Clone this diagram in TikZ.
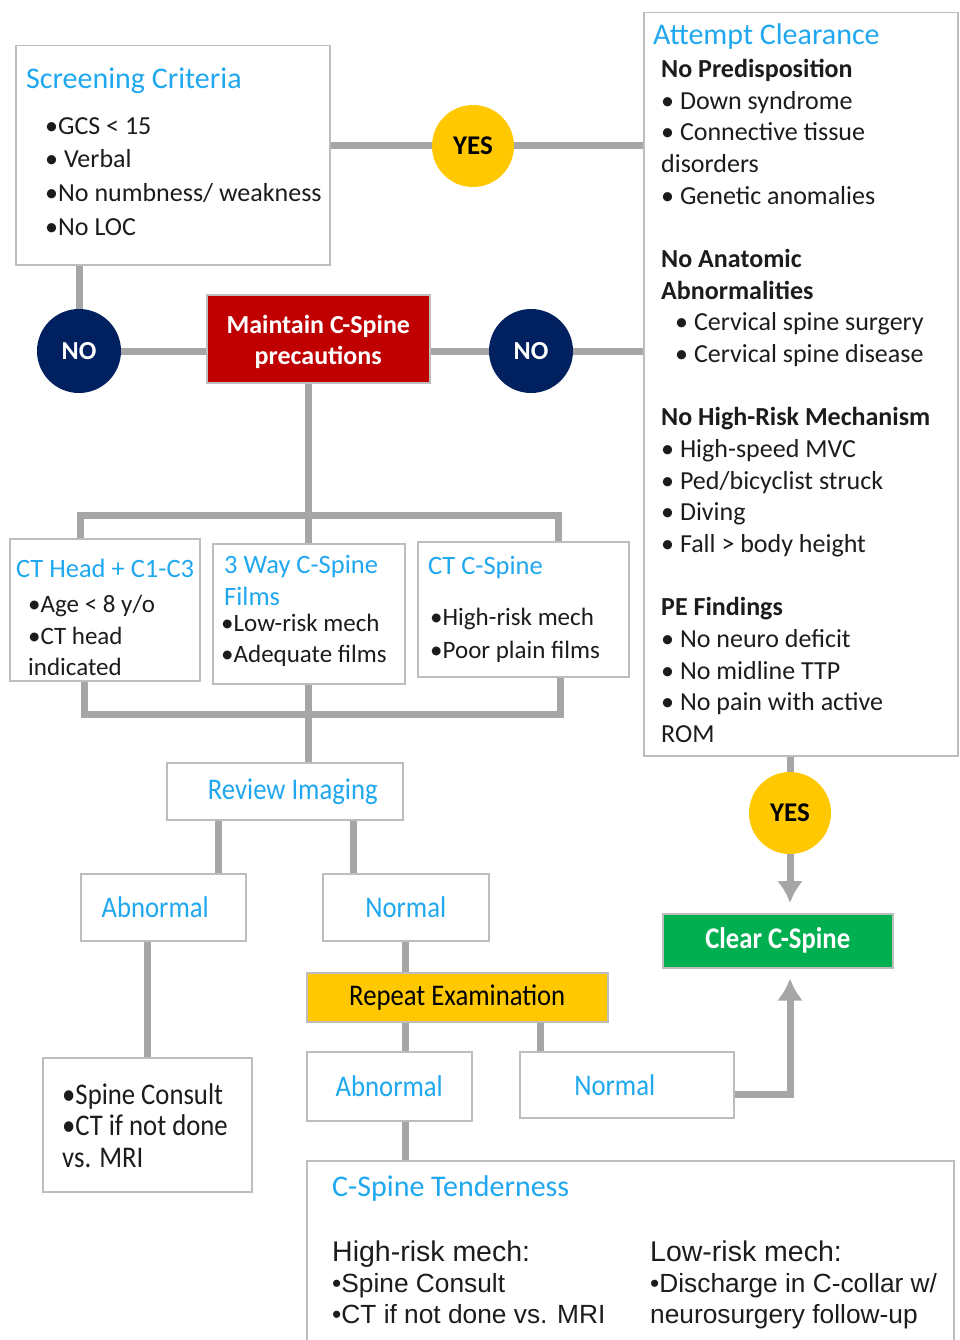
\documentclass[tikz,border=0pt]{standalone}
\usepackage{fontspec}
\setmainfont{Carlito}
\newfontfamily\narrowfont{Carlito}[FakeStretch=0.89]
\newfontfamily\arialfont{Liberation Sans}
\usepackage{xcolor}
\usetikzlibrary{calc}
\usetikzlibrary{arrows.meta}
\usetikzlibrary{shapes}
\usetikzlibrary{positioning}

\definecolor{headblue}{HTML}{1FA8F0}
\definecolor{linegrey}{HTML}{A6A6A6}
\definecolor{boxgrey}{HTML}{BDBDBD}
\definecolor{yesyellow}{HTML}{FFC800}
\definecolor{nonavy}{HTML}{002060}
\definecolor{holdred}{HTML}{C00000}
\definecolor{cleargreen}{HTML}{00B050}
\definecolor{ink}{HTML}{1C1C1C}

\begin{document}
\begin{tikzpicture}[x=1pt, y=-1pt,
  panel/.style={rectangle, draw=boxgrey, line width=1.5pt, fill=white, anchor=north west, inner sep=0pt, align=center},
  say/.style={anchor=north west, inner sep=0pt, align=left, text=ink},
  title/.style={say, text=headblue, font=\fontsize{30}{33}\selectfont},
  tag/.style={text=headblue, font=\narrowfont\fontsize{30}{33}\selectfont},
  link/.style={draw=linegrey, line width=7pt},
  goto/.style={link, -{Latex[length=22pt,width=26pt]}, shorten >=10pt},
  yesdot/.style={circle, fill=yesyellow, minimum size=82pt, inner sep=0pt, text=black, font=\bfseries\fontsize{27}{30}\selectfont},
  nodot/.style={circle, fill=nonavy, minimum size=84pt, inner sep=0pt, text=white, font=\bfseries\fontsize{26}{30}\selectfont}]
\clip (0,0) rectangle (960,1340);
\fill[white] (0,0) rectangle (960,1340);

% top row
\node[panel, minimum width=314pt, minimum height=219pt] (screen) at (15,45) {};
\node[title] (screentitle) at ($(screen.north west)+(11,23)$) {Screening Criteria};
\node[say, font=\fontsize{26}{33.7}\selectfont] (screenbody) at ($(screen.north west)+(30,72)$)
  {•GCS < 15\\• Verbal\\•No numbness/ weakness\\•No LOC};
\node[panel, minimum width=314pt, minimum height=743pt] (attempt) at (643,12) {};
\node[title] (attempttitle) at ($(attempt.north west)+(10,11)$) {Attempt Clearance};
\node[say, font=\fontsize{26}{31.67}\selectfont] (attemptbody) at ($(attempt.north west)+(18,47)$)
  {\textbf{No Predisposition}\\
   • Down syndrome\\
   • Connective tissue\\
   disorders\\
   • Genetic anomalies\\[31.67pt]
   \textbf{No Anatomic}\\
   \textbf{Abnormalities}\\
   \hspace*{14pt}• Cervical spine surgery\\
   \hspace*{14pt}• Cervical spine disease\\[31.67pt]
   \textbf{No High-Risk Mechanism}\\
   • High-speed MVC\\
   • Ped/bicyclist struck\\
   • Diving\\
   • Fall > body height\\[31.67pt]
   \textbf{PE Findings}\\
   • No neuro deficit\\
   • No midline TTP\\
   • No pain with active\\
   ROM};
\node[yesdot] (yes1) at (473,146) {YES};
\node[nodot] (no1) at (79,351) {NO};
\node[panel, minimum width=223pt, minimum height=88pt, fill=holdred, text=white,
  font=\bfseries\fontsize{26}{31}\selectfont] (maintain) at (206,294) {\rule{0pt}{25pt}Maintain C-Spine\\precautions};
\node[nodot] (no2) at (531,351) {NO};

% imaging choices
\node[panel, minimum width=190pt, minimum height=142pt] (cthead) at (9,538) {};
\node[title, font=\fontsize{26.5}{33}\selectfont] (ctheadtitle) at ($(cthead.north west)+(7,21)$) {CT Head + C1-C3};
\node[say, font=\fontsize{25}{31.5}\selectfont] (ctheadbody) at ($(cthead.north west)+(19,57)$)
  {•Age < 8 y/o\\•CT head\\indicated};
\node[panel, minimum width=192pt, minimum height=140pt] (way) at (212,543) {};
\node[title, font=\fontsize{26.5}{32}\selectfont] (waytitle) at ($(way.north west)+(12,12)$) {3 Way C-Spine\\Films};
\node[say, font=\fontsize{25}{31}\selectfont] (waybody) at ($(way.north west)+(9,71)$)
  {•Low-risk mech\\•Adequate films};
\node[panel, minimum width=211pt, minimum height=135pt] (ctspine) at (417,541) {};
\node[title, font=\fontsize{26.5}{33}\selectfont] (ctspinetitle) at ($(ctspine.north west)+(11,15)$) {CT C-Spine};
\node[say, font=\fontsize{25}{33}\selectfont] (ctspinebody) at ($(ctspine.north west)+(13,67)$)
  {•High-risk mech\\•Poor plain films};

% review
\node[panel, tag, minimum width=236pt, minimum height=57pt] (review) at (166,762) {\hspace*{16pt}Review Imaging};
\node[panel, tag, minimum width=165pt, minimum height=67pt] (abn) at (80,873) {Abnormal\hspace*{16pt}};
\node[panel, tag, minimum width=166pt, minimum height=67pt] (normal) at (322,873) {Normal};
\node[panel, minimum width=209pt, minimum height=134pt] (spine) at (42,1057) {};
\node[say, font=\narrowfont\fontsize{30}{31.5}\selectfont] (spinebody) at ($(spine.north west)+(20,26)$)
  {•Spine Consult\\•CT if not done\\vs. MRI};
\node[panel, minimum width=301pt, minimum height=49pt, fill=yesyellow, text=black,
  font=\narrowfont\fontsize{30}{33}\selectfont] (repeat) at (306,972) {Repeat Examination};
\node[panel, tag, minimum width=165pt, minimum height=69pt] (abn2) at (306,1051) {Abnormal};
\node[panel, tag, minimum width=214pt, minimum height=66pt] (norm2) at (519,1051) {Normal\hspace*{24pt}};
\node[panel, minimum width=647pt, minimum height=185pt] (tender) at (306,1160) {};
\node[title] (tendertitle) at ($(tender.north west)+(26,15)$) {C-Spine Tenderness};
\node[say, font=\arialfont\fontsize{26.3}{31}\selectfont] (tenderhigh) at ($(tender.north west)+(26,81)$)
  {{\fontsize{28.5}{31}\selectfont High-risk mech:}\\•Spine Consult\\•CT if not done vs. MRI};
\node[say, font=\arialfont\fontsize{26.3}{31}\selectfont] (tenderlow) at ($(tender.north west)+(344,81)$)
  {{\fontsize{28.5}{31}\selectfont Low-risk mech:}\\•Discharge in C-collar w/\\neurosurgery follow-up};

% clearance
\node[yesdot] (yes2) at (790,813) {YES};
\node[panel, minimum width=230pt, minimum height=54pt, fill=cleargreen, text=white,
  font=\narrowfont\bfseries\fontsize{30}{33}\selectfont] (clear) at (662,913) {Clear C-Spine};

% connectors
\coordinate (barL) at (80,515);
\coordinate (barR) at (558,515);
\coordinate (lowL) at (84,714);
\coordinate (lowR) at (560,714);
\path ([xshift=-66pt]review.south) coordinate (revL);
\path ([xshift=69pt]review.south) coordinate (revR);
\path ([xshift=-86pt]norm2.north) coordinate (n2top);
\path ([yshift=-10pt]norm2.east) coordinate (n2out);

\draw[link] (yes1.west) -- (yes1.west -| screen.east);
\draw[link] (yes1.east) -- (yes1.east -| attempt.west);
\draw[link] (screen.south -| no1) -- (no1.north);
\draw[link] (no1.east) -- (no1.east -| maintain.west);
\draw[link] (maintain.east |- no2) -- (no2.west);
\draw[link] (no2.east) -- (no2.east -| attempt.west);
\draw[link] (maintain.south -| way.north) -- (way.north);
\draw[link] (barL |- cthead.north) -- (barL) -- (barR) -- (barR |- ctspine.north);
\draw[link] (lowL |- cthead.south) -- (lowL) -- (lowR) -- (lowR |- ctspine.south);
\draw[link] (way.south) -- (way.south |- review.north);
\draw[link] (revL) -- (revL |- abn.north);
\draw[link] (revR) -- (revR |- normal.north);
\draw[link] (spine.north |- abn.south) -- (spine.north);
\draw[link] (normal.south) -- (normal.south |- repeat.north);
\draw[link] (normal.south |- repeat.south) -- (normal.south |- abn2.north);
\draw[link] (n2top |- repeat.south) -- (n2top);
\draw[link] (normal.south |- abn2.south) -- (normal.south |- tender.north);
\draw[link] (attempt.south -| yes2) -- (yes2.north);
\draw[goto] (yes2.south) -- (yes2.south |- clear.north);
\draw[goto] (n2out) -| (clear.south -| yes2);
\end{tikzpicture}
\end{document}
